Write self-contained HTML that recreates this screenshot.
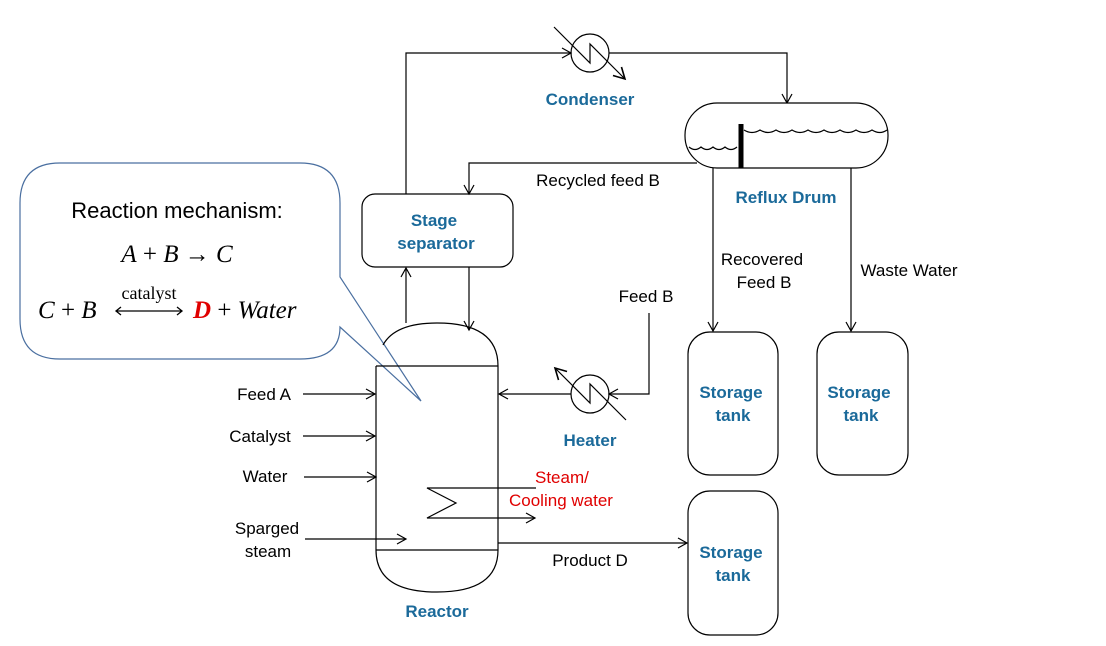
<!DOCTYPE html>
<html><head><style>
html,body{margin:0;padding:0;background:#fff;}
</style></head><body>
<svg width="1106" height="641" viewBox="0 0 1106 641" xmlns="http://www.w3.org/2000/svg" font-family="Liberation Sans, sans-serif">
<defs>
<marker id="a" markerWidth="12" markerHeight="12" refX="10" refY="6" orient="auto" markerUnits="userSpaceOnUse">
<path d="M1,1 L10,6 L1,11" fill="none" stroke="#000" stroke-width="1.2"/></marker>
<marker id="b" markerWidth="14" markerHeight="14" refX="12" refY="7" orient="auto" markerUnits="userSpaceOnUse">
<path d="M1,1 L12,7 L1,13" fill="none" stroke="#000" stroke-width="1.6"/></marker>
</defs>
<g fill="none" stroke="#000" stroke-width="1.2">
<!-- callout -->
<path d="M60,163 H300 Q340,163 340,203 V277 L421,401 L340,327 Q340,359 300,359 H60 Q20,359 20,319 V203 Q20,163 60,163 Z" fill="#fff" stroke="#4a6fa0"/>
<!-- reactor -->
<path d="M383,345 Q395,323 437,323 Q498,323 498,366 V550 Q498,592 437,592 Q376,592 376,550 V366"/>
<line x1="376" y1="366" x2="498" y2="366"/>
<line x1="376" y1="550" x2="498" y2="550"/>
<!-- stage separator -->
<rect x="362" y="194" width="151" height="73" rx="13" fill="#fff"/>
<path d="M406,194 V53 H571" marker-end="url(#a)"/>
<path d="M609,53 H787 V103" marker-end="url(#a)"/>
<circle cx="590" cy="53" r="19"/>
<path d="M554,27 L590,63 L590,44 L625,79" marker-end="url(#b)"/>
<!-- reflux drum -->
<rect x="685" y="103" width="203" height="65" rx="32" fill="#fff"/>
<line x1="741" y1="124" x2="741" y2="168" stroke-width="5"/>
<path d="M689,147 q6,5 12,0 q6,5 12,0 q6,5 12,0 q6,5 12,0"/>
<path d="M744,130 q8,5 16,0 q8,5 16,0 q8,5 16,0 q8,5 16,0 q8,5 16,0 q8,5 16,0 q8,5 16,0 q8,5 16,0 q8,5 15,0"/>
<path d="M697,163 H469 V194" marker-end="url(#a)"/>
<path d="M713,168 V331" marker-end="url(#a)"/>
<path d="M851,168 V331" marker-end="url(#a)"/>
<path d="M406,323 V268" marker-end="url(#a)"/>
<path d="M469,267 V330" marker-end="url(#a)"/>
<!-- heater -->
<path d="M649,313 V394 H609" marker-end="url(#a)"/>
<path d="M571,394 H499" marker-end="url(#a)"/>
<circle cx="590" cy="394" r="19"/>
<path d="M626,420 L590,384 L590,403 L555,368" marker-end="url(#b)"/>
<!-- tanks -->
<rect x="688" y="332" width="90" height="143" rx="22"/>
<rect x="817" y="332" width="91" height="143" rx="22"/>
<rect x="688" y="491" width="90" height="144" rx="22"/>
<!-- feeds -->
<path d="M303,394 H375" marker-end="url(#a)"/>
<path d="M303,436 H375" marker-end="url(#a)"/>
<path d="M304,477 H376" marker-end="url(#a)"/>
<path d="M305,539 H406" marker-end="url(#a)"/>
<!-- coil -->
<path d="M536,488 H427 L456,503 L427,518 H535" marker-end="url(#a)"/>
<path d="M498,543 H687" marker-end="url(#a)"/>
</g>
<g font-size="17" fill="#000">
<text x="264" y="400" text-anchor="middle">Feed A</text>
<text x="260" y="442" text-anchor="middle">Catalyst</text>
<text x="265" y="482" text-anchor="middle">Water</text>
<text x="267" y="534" text-anchor="middle">Sparged</text>
<text x="268" y="557" text-anchor="middle">steam</text>
<text x="598" y="186" text-anchor="middle">Recycled feed B</text>
<text x="762" y="265" text-anchor="middle">Recovered</text>
<text x="764" y="288" text-anchor="middle">Feed B</text>
<text x="909" y="276" text-anchor="middle">Waste Water</text>
<text x="646" y="302" text-anchor="middle">Feed B</text>
<text x="590" y="566" text-anchor="middle">Product D</text>
<text x="535" y="483" fill="#e00000">Steam/</text>
<text x="509" y="506" fill="#e00000">Cooling water</text>
</g>
<g font-size="17" font-weight="bold" fill="#1b6a9a" text-anchor="middle">
<text x="590" y="105">Condenser</text>
<text x="786" y="203">Reflux Drum</text>
<text x="434" y="226">Stage</text>
<text x="436" y="249">separator</text>
<text x="590" y="446">Heater</text>
<text x="437" y="617">Reactor</text>
<text x="731" y="398">Storage</text>
<text x="733" y="421">tank</text>
<text x="859" y="398">Storage</text>
<text x="861" y="421">tank</text>
<text x="731" y="558">Storage</text>
<text x="733" y="581">tank</text>
</g>
<text x="177" y="218" font-size="22" text-anchor="middle" fill="#000">Reaction mechanism:</text>
<g font-family="Liberation Serif, serif" font-size="25" fill="#000">
<text x="177" y="262" text-anchor="middle"><tspan font-style="italic">A</tspan> + <tspan font-style="italic">B</tspan> → <tspan font-style="italic">C</tspan></text>
<text x="38" y="318"><tspan font-style="italic">C</tspan> + <tspan font-style="italic">B</tspan></text>
<text x="149" y="299" font-size="18" text-anchor="middle">catalyst</text>
<text x="193" y="318"><tspan font-style="italic" font-weight="bold" fill="#e00000">D</tspan> + <tspan font-style="italic">Water</tspan></text>
</g>
<path d="M116,311 H182 M121,307 L116,311 L121,315 M177,307 L182,311 L177,315" fill="none" stroke="#000" stroke-width="1.3"/>
</svg>
</body></html>
